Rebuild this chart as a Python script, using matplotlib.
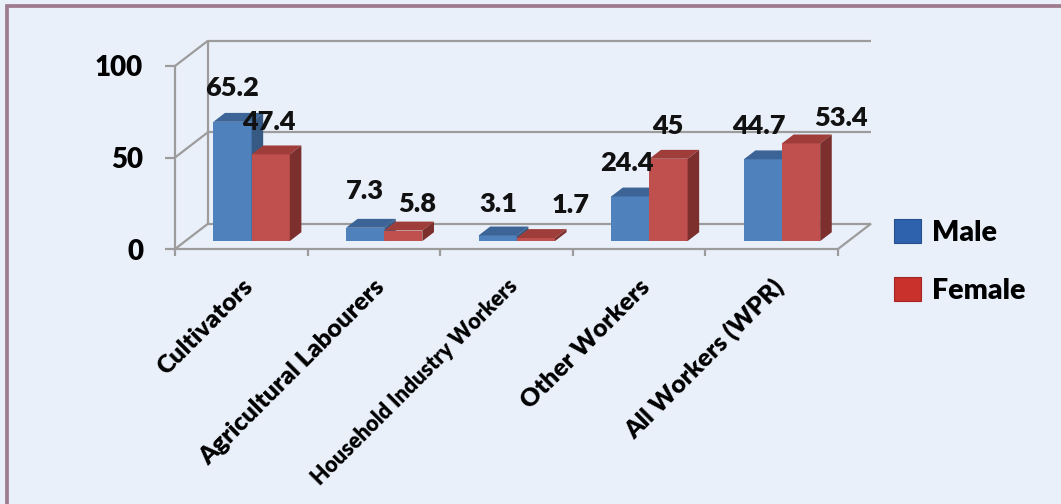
import matplotlib
matplotlib.use("Agg")
import matplotlib.pyplot as plt
from matplotlib.patches import Patch, Rectangle

plt.rcParams['font.family'] = ['Lato', 'DejaVu Sans']

# ---- data ----
categories = ["Cultivators", "Agricultural Labourers", "Household Industry Workers",
              "Other Workers", "All Workers (WPR)"]
male = [65.2, 7.3, 3.1, 24.4, 44.7]
female = [47.4, 5.8, 1.7, 45, 53.4]
series_names = ["Male", "Female"]
y_ticks = [0, 50, 100]

# label nudges in pixels (dx, dy) – placement tweaks only
nudge_male = [(0, 1), (0, 4), (1, -1), (-3, 1), (-4, 0)]
nudge_female = [(-2, -1), (14, -6), (35, 0), (-1, 0), (40, -8)]

# ---- style ----
BG = '#EAF0FA'
GRID = '#9C9C9C'
WEIGHT = 'heavy'
male_cols = ('#4F81BD', '#3C6496', '#375A85')     # front, top, side
female_cols = ('#C0504D', '#9E3D3A', '#7D2F2D')
DX, DY = 0.25, 13.9          # depth of the floor (category units, value units)
D0, DD = 0.31, 0.35          # bar front-face depth fraction, bar depth fraction
W = 0.288                    # bar width (category units)

W_PX, H_PX = 1061, 504
fig = plt.figure(figsize=(W_PX / 100, H_PX / 100), dpi=100, facecolor=BG)

# border
fig.patches.append(Rectangle((7 / W_PX, -0.1), 1.2, 1.1 - 6.5 / H_PX,
                             transform=fig.transFigure, fill=False,
                             edgecolor='#9F7B8F', lw=2.7))

ax = fig.add_axes([175 / W_PX, (H_PX - 249) / H_PX, 663 / W_PX, 183 / H_PX])
ax.set_facecolor('none')
ax.set_xlim(0, len(categories))
ax.set_ylim(0, 100)
for s in ('top', 'right'):
    ax.spines[s].set_visible(False)
for s in ('left', 'bottom'):
    ax.spines[s].set_color(GRID)
    ax.spines[s].set_linewidth(1.6)

n = len(categories)
lk = dict(color=GRID, lw=1.6, clip_on=False, zorder=1, solid_capstyle='butt')
# floor
ax.plot([DX, n + DX], [DY, DY], **lk)
ax.plot([0, DX], [0, DY], **lk)
ax.plot([n, n + DX], [0, DY], **lk)
# back wall
ax.plot([DX, DX], [DY, 100 + DY], **lk)
for g in y_ticks[1:]:
    ax.plot([DX, n + DX], [g + DY, g + DY], **lk)
    ax.plot([0, DX], [g, g + DY], **lk)

# ticks
ax.set_yticks(y_ticks)
ax.set_yticklabels([str(t) for t in y_ticks])
ax.tick_params(axis='y', length=7, width=1.6, color=GRID, pad=16,
               labelsize=20)
for t in ax.get_yticklabels():
    t.set_fontweight(WEIGHT)
ax.set_xticks(range(n + 1), minor=True)
ax.tick_params(axis='x', which='minor', length=5, width=1.6, color=GRID)
ax.set_xticks([i + 0.5 for i in range(n)])
ax.set_xticklabels(categories, rotation=45, ha='right', rotation_mode='anchor',
                   fontsize=18, fontweight=WEIGHT)
ax.tick_params(axis='x', which='major', length=0, pad=19)
for t in ax.get_xticklabels():
    if t.get_text().startswith('Household'):
        t.set_fontsize(15.5)


def bar3d(x0, v, cols, z):
    y0 = D0 * DY
    ddx, ddy = DD * DX, DD * DY
    front, top, side = cols
    ax.fill([x0, x0 + W, x0 + W, x0], [y0, y0, y0 + v, y0 + v],
            color=front, clip_on=False, zorder=z, lw=0)
    ax.fill([x0, x0 + W, x0 + W + ddx, x0 + ddx],
            [y0 + v, y0 + v, y0 + v + ddy, y0 + v + ddy],
            color=top, clip_on=False, zorder=z, lw=0)
    ax.fill([x0 + W, x0 + W + ddx, x0 + W + ddx, x0 + W],
            [y0, y0 + ddy, y0 + v + ddy, y0 + v],
            color=side, clip_on=False, zorder=z, lw=0)
    return x0 + W / 2, y0 + v + ddy


for i in range(n):
    xc = i + 0.5 + D0 * DX
    for s, (vals, cols, nud) in enumerate([(male, male_cols, nudge_male),
                                           (female, female_cols, nudge_female)]):
        x0 = xc - W + s * W
        cx, ty = bar3d(x0, vals[i], cols, 3 + i * 2 + s)
        ax.annotate(f"{vals[i]:g}", xy=(cx, ty),
                    xytext=(nud[i][0], 24 + nud[i][1]), textcoords='offset pixels',
                    ha='center', va='center', fontsize=19.5, fontweight=WEIGHT,
                    color='#111111', zorder=20, annotation_clip=False)

handles = [Patch(facecolor='#2F62AC', edgecolor='#24508F', lw=0.8),
           Patch(facecolor='#C8312C', edgecolor='#A42622', lw=0.8)]
fig.legend(handles, series_names, loc='upper left',
           bbox_to_anchor=(894 / W_PX, 1 - 219 / H_PX), frameon=False,
           prop={'family': ['Lato', 'DejaVu Sans'], 'weight': WEIGHT, 'size': 20.5},
           handlelength=0.95, handleheight=0.9, handletextpad=0.4,
           labelspacing=1.1, borderpad=0, borderaxespad=0)

fig.savefig('out.png', dpi=100, facecolor=BG)
